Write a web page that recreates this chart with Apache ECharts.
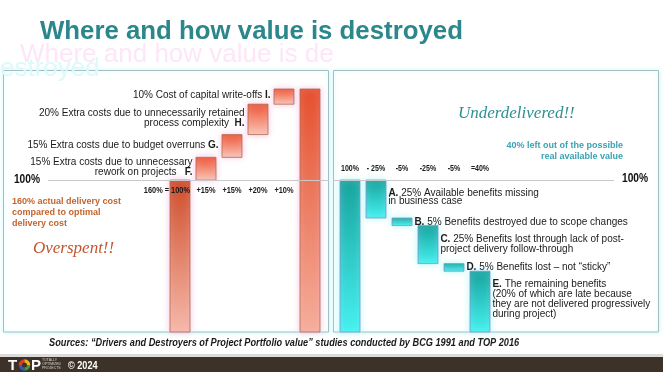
<!DOCTYPE html>
<html><head><meta charset="utf-8">
<script src="https://cdn.jsdelivr.net/npm/echarts@6/dist/echarts.min.js"></script>
<style>html,body{margin:0;padding:0;background:#fff}#c{width:663px;height:372px}</style>
</head><body><div id="c"></div>
<script>
// ---------- data ----------
const leftTicks = ['160% = 100%', '+15%', '+15%', '+20%', '+10%'];
const leftSteps = [100, 15, 15, 20, 10];
const leftTotal = 160;
const leftLetters = ['', 'F.', 'G.', 'H.', 'I.', ''];
const leftNotes = ['', '15% Extra costs due to unnecessary\nrework on projects   ', '15% Extra costs due to budget overruns ', '20% Extra costs due to unnecessarily retained\nprocess complexity  ', '10% Cost of capital write-offs ', ''];

const rightTicks = ['100%', '- 25%', '-5%', '-25%', '-5%', '=40%'];
const rightSteps = [100, -25, -5, -25, -5];
const rightTotal = 40;
const rightLetters = ['', 'A.', 'B.', 'C.', 'D.', 'E.'];
const rightNotes = ['', ' 25% Available benefits missing\nin business case', ' 5% Benefits destroyed due to scope changes', ' 25% Benefits lost through lack of post-\nproject delivery follow-through', ' 5% Benefits lost \u2013 not \u201csticky\u201d', ' The remaining benefits\n(20% of which are late because\nthey are not delivered progressively\nduring project)'];

const baseLine = 100;           // the "100%" reference level

// ---------- helpers ----------
const SANS = '"Liberation Sans", Arial, sans-serif';
const NARROW_X = 0.82;          // emulate a condensed face

function waterfall(steps, total) {
  const rows = []; let run = 0;
  steps.forEach((v, i) => {
    const lo = Math.min(run, run + v), hi = Math.max(run, run + v);
    rows.push([i, lo, hi]); run += v;
  });
  rows.push([steps.length, 0, total]);
  return rows;
}
const grad = (a, b) => new echarts.graphic.LinearGradient(0, 0, 0, 1, [{ offset: 0, color: a }, { offset: 1, color: b }]);

const L = waterfall(leftSteps, leftTotal);
const R = waterfall(rightSteps, rightTotal);

const leftStyle = (i, n) => ({
  fill: i === 0 ? grad('#cf4d2a', '#f6b9a9') : (i === n - 1 ? grad('#e5502d', '#f5ae9c') : grad('#ee5434', '#f9c6b6')),
  stroke: '#ad6e4c', lineWidth: 0.8, shadowColor: '#f8c2e4', shadowBlur: 6
});
const rightStyle = (i, n) => ({
  fill: grad('#18a39e', '#45f1f0'),
  stroke: '#8c8fd0', lineWidth: 0.8, shadowColor: '#b0fafa', shadowBlur: 6
});

function barRenderer(styleFn, labelFn, n) {
  return function (params, api) {
    const x = api.value(0), lo = api.value(1), hi = api.value(2);
    const top = api.coord([x, hi]), bot = api.coord([x, lo]);
    const i = params.dataIndex;
    const el = {
      type: 'rect',
      shape: { x: top[0] - 10, y: top[1], width: 20, height: bot[1] - top[1] },
      style: styleFn(i, n)
    };
    const lab = labelFn(i);
    if (lab) { el.textContent = lab.content; el.textConfig = lab.config; }
    return el;
  };
}

const leftLabel = i => {
  if (!leftNotes[i]) return null;
  return {
    content: { type: 'text', style: {
      text: leftNotes[i] + '{b|' + leftLetters[i] + '}',
      fontSize: 10, fontFamily: SANS, fill: '#1a1a1a', lineHeight: 10, align: 'right', verticalAlign: 'middle',
      rich: { b: { fontSize: 10, fontFamily: SANS, fontWeight: 'bold', fill: '#1a1a1a', lineHeight: 10 } }
    } },
    config: { position: 'left', distance: 3, offset: [0, -1] }
  };
};
const rightLabel = i => {
  if (!rightNotes[i]) return null;
  const lh = i === 1 ? 8.5 : 10;
  return {
    content: { type: 'text', style: {
      text: '{b|' + rightLetters[i] + '}' + rightNotes[i],
      fontSize: 10, fontFamily: SANS, fill: '#1a1a1a', lineHeight: lh, align: 'left', verticalAlign: 'middle',
      rich: { b: { fontSize: 10, fontFamily: SANS, fontWeight: 'bold', fill: '#1a1a1a', lineHeight: lh } }
    } },
    config: { position: 'right', distance: 2, offset: [0, (i === 1 || i === 5) ? -2 : 0] }
  };
};

// tick labels along the 100% level, drawn at the axis positions of each bar
function tickRenderer(ticks, side) {
  return function (params, api) {
    const i = params.dataIndex;
    const p = api.coord([api.value(0), api.value(1)]);
    const first = side === 'left' && i === 0;
    return {
      type: 'text', x: first ? p[0] + 10 : p[0], y: side === 'left' ? p[1] + 10.5 : p[1] - 11,
      scaleX: NARROW_X,
      style: { text: ticks[i], font: 'bold ' + (side === 'left' ? 9 : 8.6) + 'px ' + SANS, fill: '#1a1a1a',
        align: first ? 'right' : 'center', verticalAlign: 'middle' }
    };
  };
}
// "100%" caption at the end of the reference line
function levelCaption(side) {
  return function (params, api) {
    const cs = params.coordSys;
    const y = api.coord([api.value(0), api.value(1)])[1];
    return {
      type: 'text', x: side === 'left' ? cs.x - 8 : cs.x + cs.width + 8, y: y + (side === 'left' ? 0 : -1.5),
      scaleX: 0.85,
      style: { text: '100%', font: 'bold 12px ' + SANS, fill: '#111', align: side === 'left' ? 'right' : 'left', verticalAlign: 'middle' }
    };
  };
}
const refLine = { silent: true, symbol: 'none', lineStyle: { color: '#c9c9c9', width: 1, type: 'solid' },
  label: { show: false }, data: [{ yAxis: baseLine }] };

const option = {
  animation: false,
  backgroundColor: '#ffffff',
  grid: [
    { left: 48, top: 89, width: 281, height: 243 },
    { left: 333, top: 180, width: 281, height: 152 }
  ],
  xAxis: [
    { gridIndex: 0, type: 'value', min: -5.077, max: 5.731, show: false },
    { gridIndex: 1, type: 'value', min: -0.654, max: 10.154, show: false }
  ],
  yAxis: [
    { gridIndex: 0, type: 'value', min: 0, max: 160, show: false },
    { gridIndex: 1, type: 'value', min: 0, max: 100, show: false }
  ],
  series: [
    { type: 'custom', xAxisIndex: 0, yAxisIndex: 0, silent: true, clip: false, z: 2,
      renderItem: levelCaption('left'), data: [[0, baseLine]], markLine: refLine },
    { type: 'custom', xAxisIndex: 0, yAxisIndex: 0, silent: true, clip: false, z: 3,
      renderItem: barRenderer(leftStyle, leftLabel, L.length), data: L },
    { type: 'custom', xAxisIndex: 0, yAxisIndex: 0, silent: true, clip: false, z: 4,
      renderItem: tickRenderer(leftTicks, 'left'), data: leftTicks.map((t, i) => [i, baseLine]) },

    { type: 'custom', xAxisIndex: 1, yAxisIndex: 1, silent: true, clip: false, z: 2,
      renderItem: levelCaption('right'), data: [[0, baseLine]], markLine: refLine },
    { type: 'custom', xAxisIndex: 1, yAxisIndex: 1, silent: true, clip: false, z: 3,
      renderItem: barRenderer(rightStyle, rightLabel, R.length), data: R },
    { type: 'custom', xAxisIndex: 1, yAxisIndex: 1, silent: true, clip: false, z: 4,
      renderItem: tickRenderer(rightTicks, 'right'), data: rightTicks.map((t, i) => [i, baseLine]) }
  ],
  graphic: [
    // panels
    { type: 'rect', z: -10, shape: { x: 3.5, y: 70.5, width: 325, height: 261.5 },
      style: { fill: '#fff', stroke: '#a4bec2', lineWidth: 1, shadowBlur: 4, shadowColor: '#c4f6f8' } },
    { type: 'rect', z: -10, shape: { x: 333.5, y: 70.5, width: 325, height: 261.5 },
      style: { fill: '#fff', stroke: '#a4bec2', lineWidth: 1, shadowBlur: 4, shadowColor: '#c4f6f8' } },
    // ghost title artefacts
    { type: 'text', z: -5, x: 20, y: 55, style: { text: 'Where and how value is de', font: '26px ' + SANS, fill: '#fde6f7', verticalAlign: 'middle' } },
    { type: 'text', z: -5, x: 0, y: 69, style: { text: 'estroyed', font: '26px ' + SANS, fill: '#dcf9fb', verticalAlign: 'middle' } },
    // title
    { type: 'text', x: 40, y: 32, style: { text: 'Where and how value is destroyed', font: 'bold 25.8px ' + SANS, fill: '#2b878b', verticalAlign: 'middle' } },
    // left annotations
    { type: 'text', x: 12, y: 213, style: { text: '160% actual delivery cost\ncompared to optimal\ndelivery cost', font: 'bold 9px ' + SANS, lineHeight: 11, fill: '#c4642c', verticalAlign: 'middle' } },
    { type: 'text', x: 33, y: 249, style: { text: 'Overspent!!', font: 'italic 17px cursive', fill: '#c3552d', verticalAlign: 'middle' } },
    // right annotations
    { type: 'text', x: 458, y: 114, style: { text: 'Underdelivered!!', font: 'italic 17px cursive', fill: '#2f8f92', verticalAlign: 'middle' } },
    { type: 'text', x: 623, y: 151, style: { text: '40% left out of the possible\nreal available value', font: 'bold 9px ' + SANS, lineHeight: 11.5, fill: '#3aa2b4', align: 'right', verticalAlign: 'middle' } },
    // sources
    { type: 'text', x: 49, y: 343, scaleX: 0.92, style: { text: 'Sources: \u201cDrivers and Destroyers of Project Portfolio value\u201d studies conducted by BCG 1991 and TOP 2016', font: 'italic bold 10px ' + SANS, fill: '#1a1a1a', verticalAlign: 'middle' } },
    // footer
    { type: 'rect', shape: { x: 0, y: 354, width: 663, height: 3 }, style: { fill: '#dcdcdc' } },
    { type: 'rect', shape: { x: 0, y: 357, width: 663, height: 15 }, style: { fill: '#3c3228' } },
    { type: 'text', x: 8, y: 366, style: { text: 'T', font: 'bold 15px ' + SANS, fill: '#ffffff', verticalAlign: 'middle' } },
    { type: 'sector', shape: { cx: 24.5, cy: 365, r0: 2.5, r: 5.8, startAngle: Math.PI, endAngle: Math.PI * 1.5 }, style: { fill: '#e23b2a' } },
    { type: 'sector', shape: { cx: 24.5, cy: 365, r0: 2.5, r: 5.8, startAngle: Math.PI * 1.5, endAngle: Math.PI * 2 }, style: { fill: '#f2b221' } },
    { type: 'sector', shape: { cx: 24.5, cy: 365, r0: 2.5, r: 5.8, startAngle: 0, endAngle: Math.PI * 0.5 }, style: { fill: '#3a9a45' } },
    { type: 'sector', shape: { cx: 24.5, cy: 365, r0: 2.5, r: 5.8, startAngle: Math.PI * 0.5, endAngle: Math.PI }, style: { fill: '#3c57b0' } },
    { type: 'text', x: 31, y: 366, style: { text: 'P', font: 'bold 15px ' + SANS, fill: '#ffffff', verticalAlign: 'middle' } },
    { type: 'text', x: 42, y: 364, style: { text: 'TOTALLY\nOPTIMIZED\nPROJECTS', font: '3.5px ' + SANS, lineHeight: 4, fill: '#d8d8d8', verticalAlign: 'middle' } },
    { type: 'text', x: 68, y: 365.5, scaleX: 0.83, style: { text: '\u00a9 2024', font: 'bold 11px ' + SANS, fill: '#ffffff', verticalAlign: 'middle' } }
  ]
};
const chart = echarts.init(document.getElementById('c'));
chart.setOption(option);
</script>
</body></html>
